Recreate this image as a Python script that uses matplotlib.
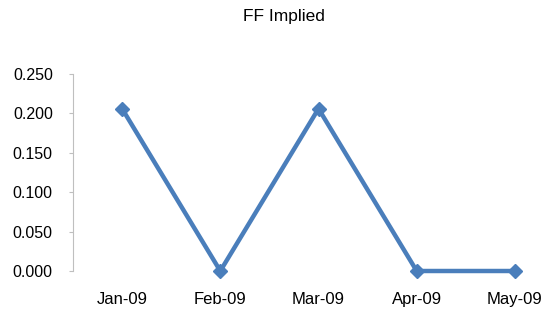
import matplotlib.pyplot as plt

# FF implied values by month
months = ['Jan-09', 'Feb-09', 'Mar-09', 'Apr-09', 'May-09']
ff_implied = [0.206, 0.0, 0.206, 0.0, 0.0]
y_ticks = [0.0, 0.05, 0.10, 0.15, 0.20, 0.25]

plt.rcParams['font.family'] = ['Liberation Sans', 'DejaVu Sans']

fig = plt.figure(figsize=(5.44, 3.11), dpi=100)
# plot area runs past the right edge, like the cropped original
ax = fig.add_axes([73 / 544, 40 / 311, 491 / 544, 197 / 311])

x = list(range(len(months)))
ax.plot(x, ff_implied, color='#4A7EBB', linewidth=3.2, marker='D', markersize=7,
        clip_on=False)

ax.set_xlim(-0.5, len(months) - 0.5)
ax.set_ylim(0, 0.25)
ax.set_yticks(y_ticks)
ax.set_yticklabels(['%.3f' % v for v in y_ticks])
ax.set_xticks(x)
ax.set_xticklabels(months)

for side in ['top', 'right', 'bottom']:
    ax.spines[side].set_visible(False)
ax.spines['left'].set_color('#BFBFBF')
ax.tick_params(axis='y', length=3, color='#BFBFBF', labelsize=11.5, pad=11.5)
ax.tick_params(axis='x', length=0, labelsize=12, pad=15)

fig.text(284 / 544, 1 - 17 / 311, 'FF Implied', ha='center', va='center', fontsize=12.5)

fig.savefig('out.png', dpi=100)
